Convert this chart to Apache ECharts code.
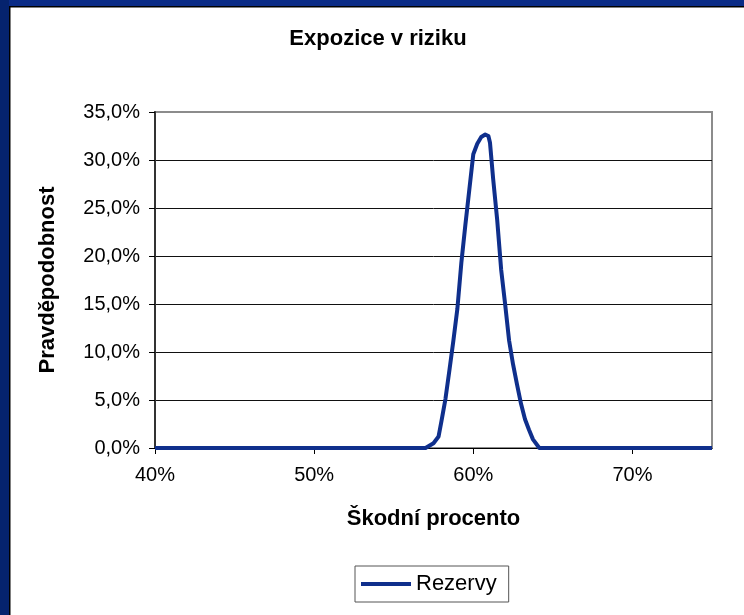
<!DOCTYPE html>
<html>
<head>
<meta charset="utf-8">
<script src="https://cdn.jsdelivr.net/npm/echarts@6/dist/echarts.min.js"></script>
<style>
html,body{margin:0;padding:0;background:#fff;}
#chart{width:744px;height:615px;}
</style>
</head>
<body>
<div id="chart"></div>
<script>
// Data (x in %, y in %)
const titleText = 'Expozice v riziku';
const xName = 'Škodní procento';
const yName = 'Pravděpodobnost';
const seriesName = 'Rezervy';
const xValues = [40, 57.0, 57.5, 57.82, 58.0, 58.25, 58.5, 58.75, 59.0, 59.25, 59.5, 59.75, 60.0, 60.25, 60.5, 60.75, 60.95, 61.05, 61.25, 61.5, 61.75, 62.0, 62.25, 62.5, 62.75, 63.0, 63.25, 63.5, 63.75, 64.15, 75];
const yValues = [0, 0, 0.5, 1.2, 2.8, 5.1, 8.1, 11.2, 14.5, 19.3, 23.2, 26.9, 30.6, 31.7, 32.4, 32.65, 32.5, 31.8, 28.0, 23.8, 18.6, 15.0, 11.2, 8.7, 6.6, 4.6, 3.0, 1.9, 0.9, 0, 0];
const xTicks = [40, 50, 60, 70];
const yTicks = [0, 5, 10, 15, 20, 25, 30, 35];

const points = xValues.map((x, i) => [x, yValues[i]]);
const chart = echarts.init(document.getElementById('chart'));
const font = 'Liberation Sans, Arial, sans-serif';
const gridColors = yTicks.map((t, i) => i === yTicks.length - 1 ? '#8c8c8c' : '#111');
chart.setOption({
  backgroundColor: '#fff',
  animation: false,
  title: {
    text: titleText,
    left: 373,
    textAlign: 'center',
    top: 23,
    padding: 5,
    textStyle: {fontFamily: font, fontSize: 22, fontWeight: 'bold', color: '#000'}
  },
  grid: {
    left: 155, top: 112, right: 32, bottom: 167,
    show: true, borderColor: '#8c8c8c', borderWidth: 2, backgroundColor: 'transparent'
  },
  legend: {
    data: [seriesName],
    left: 355, top: 566,
    padding: [7, 12, 7, 6],
    borderColor: '#555', borderWidth: 1,
    icon: 'rect', itemWidth: 50, itemHeight: 4,
    textStyle: {fontFamily: font, fontSize: 22, color: '#000'}
  },
  xAxis: {
    type: 'value',
    min: xTicks[0], max: 75, interval: 10,
    name: xName, nameLocation: 'middle', nameGap: 60,
    nameTextStyle: {fontFamily: font, fontSize: 22, fontWeight: 'bold', color: '#000'},
    axisLine: {show: true, onZero: false, lineStyle: {color: '#000', width: 1}},
    axisTick: {show: true, length: 6, lineStyle: {color: '#000'}},
    axisLabel: {margin: 17, fontFamily: font, fontSize: 20, color: '#000', formatter: v => v + '%', showMaxLabel: false},
    splitLine: {show: false}
  },
  yAxis: {
    type: 'value',
    min: yTicks[0], max: yTicks[yTicks.length - 1], interval: 5,
    name: yName, nameLocation: 'middle', nameGap: 96,
    nameTextStyle: {fontFamily: font, fontSize: 22, fontWeight: 'bold', color: '#000'},
    axisLine: {show: true, lineStyle: {color: '#333', width: 2}},
    axisTick: {show: true, length: 6, lineStyle: {color: '#000'}},
    axisLabel: {margin: 15, fontFamily: font, fontSize: 20, color: '#000', formatter: v => v.toFixed(1).replace('.', ',') + '%'},
    splitLine: {show: true, lineStyle: {color: gridColors, width: 1}}
  },
  series: [{
    name: seriesName,
    type: 'line',
    data: points,
    showSymbol: false,
    symbol: 'none',
    color: '#0f2f8c',
    lineStyle: {color: '#0f2f8c', width: 4, join: 'round'}
  }],
  graphic: [
    {type: 'rect', left: 0, top: 0, shape: {width: 744, height: 6}, style: {fill: '#0a2b86'}, z: 100},
    {type: 'rect', left: 0, top: 6, shape: {width: 744, height: 1.5}, style: {fill: '#000'}, z: 100},
    {type: 'rect', left: 0, top: 0, shape: {width: 9, height: 615}, style: {fill: '#05236e'}, z: 101},
    {type: 'rect', left: 9, top: 6, shape: {width: 1.5, height: 609}, style: {fill: '#000'}, z: 101}
  ]
});
</script>
</body>
</html>
